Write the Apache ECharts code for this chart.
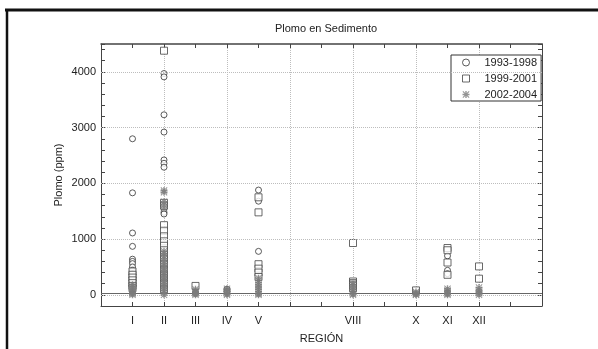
<!DOCTYPE html>
<html>
<head>
<meta charset="utf-8">
<script src="https://cdn.jsdelivr.net/npm/echarts@6/dist/echarts.min.js"></script>
<style>
html,body{margin:0;padding:0;background:#fff;}
#chart{width:598px;height:349px;}
</style>
</head>
<body>
<div id="chart"></div>
<script>
// Region tick positions and labels
const regionValues = [1, 2, 3, 4, 5, 8, 10, 11, 12];
const regionLabels = ['I', 'II', 'III', 'IV', 'V', 'VIII', 'X', 'XI', 'XII'];
const seriesNames = ['1993-1998', '1999-2001', '2002-2004'];

// [region, ppm]
const pts1993 = [
  [1,2800],[1,1830],[1,1110],[1,870],[1,640],[1,600],[1,560],[1,500],[1,440],[1,380],
  [2,3970],[2,3910],[2,3230],[2,2920],[2,2420],[2,2360],[2,2290],[2,1550],[2,1480],[2,1450],[2,600],
  [3,30],
  [4,100],[4,60],
  [5,1880],[5,1680],[5,780],
  [11,700],[11,440],[11,380]
];
const pts1999 = [
  [1,420],[1,360],[1,310],[1,260],[1,210],[1,160],[1,120],
  [2,4380],[2,1650],[2,1600],[2,1250],[2,1150],[2,1050],[2,960],[2,880],[2,800],[2,720],[2,650],[2,550],[2,450],[2,350],[2,300],[2,200],[2,100],
  [3,160],
  [5,1750],[5,1480],[5,550],[5,470],[5,400],[5,320],
  [8,930],[8,240],[8,210],[8,170],[8,120],
  [10,80],
  [11,840],[11,800],[11,580],[11,360],
  [12,510],[12,290]
];
const pts2002 = [
  [1,180],[1,150],[1,120],[1,90],[1,60],[1,40],[1,20],[1,0],
  [2,1870],[2,1840],[2,1670],[2,1620],[2,1560],[2,780],[2,740],[2,700],[2,650],[2,600],[2,560],[2,520],[2,480],[2,440],[2,400],[2,360],[2,320],[2,280],[2,240],[2,200],[2,160],[2,120],[2,80],[2,40],[2,0],
  [3,100],[3,70],[3,40],[3,20],[3,0],
  [4,110],[4,80],[4,50],[4,20],[4,0],
  [5,300],[5,260],[5,220],[5,180],[5,140],[5,100],[5,60],[5,20],[5,0],
  [8,220],[8,180],[8,140],[8,100],[8,60],[8,20],[8,0],
  [10,50],[10,30],[10,10],[10,0],
  [11,110],[11,80],[11,50],[11,20],[11,0],
  [12,130],[12,90],[12,60],[12,30],[12,0]
];
const yGridValues = [0, 1000, 2000, 3000, 4000];
const baseLineValue = 30;

const FONT = '"Liberation Sans", Arial, sans-serif';
const starPath = 'path://M4,0H6V4H10V6H6V10H4V6H0V4H4Z M1,0L5,4L9,0L10,1L6,5L10,9L9,10L5,6L1,10L0,9L4,5L0,1Z';

const chart = echarts.init(document.getElementById('chart'), null, {renderer: 'canvas'});
const labelMap = {};
regionValues.forEach((v, i) => { labelMap[v] = regionLabels[i]; });

const tick = {show: true, inside: true, length: 4, lineStyle: {color: '#444'}};
chart.setOption({
  animation: false,
  backgroundColor: '#fff',
  title: {
    text: 'Plomo en Sedimento',
    left: 321, top: 18, textAlign: 'center',
    textStyle: {fontFamily: FONT, fontSize: 11, fontWeight: 'normal', color: '#222'}
  },
  legend: {
    orient: 'vertical',
    left: 451, top: 55,
    backgroundColor: '#fff',
    borderColor: '#333', borderWidth: 1,
    padding: [2, 4, 1, 11],
    itemWidth: 7, itemHeight: 7, itemGap: 5,
    itemStyle: {borderWidth: 1},
    textStyle: {fontFamily: FONT, fontSize: 11, color: '#222', padding: [0, 0, 0, 10]},
    data: seriesNames
  },
  grid: {left: 101, top: 44, width: 441, height: 267},
  xAxis: [{
    type: 'value', min: 0, max: 14, interval: 1, position: 'bottom',
    name: 'REGIÓN', nameLocation: 'middle', nameGap: 27, nameMoveOverlap: false,
    nameTextStyle: {fontFamily: FONT, fontSize: 11, color: '#222'},
    axisLine: {show: true, onZero: false, lineStyle: {color: '#444', width: 1}},
    axisTick: tick,
    axisLabel: {fontFamily: FONT, fontSize: 11, color: '#222', margin: 9,
      formatter: v => labelMap[v] || ''},
    splitLine: {show: true, lineStyle: {type: 'dotted', color: ['#bdbdbd', 'transparent'], width: 1}}
  }, {
    type: 'value', min: 0, max: 14, interval: 1, position: 'top',
    axisLine: {show: true, onZero: false, lineStyle: {color: '#444', width: 1.5}},
    axisTick: tick,
    axisLabel: {show: false}, splitLine: {show: false}
  }],
  yAxis: [{
    type: 'value', min: -200, max: 4500, interval: 200, position: 'left',
    name: 'Plomo (ppm)', nameLocation: 'middle', nameGap: 37, nameMoveOverlap: false,
    nameTextStyle: {fontFamily: FONT, fontSize: 11, color: '#222'},
    axisLine: {show: true, onZero: false, lineStyle: {color: '#444', width: 1}},
    axisTick: tick,
    axisLabel: {fontFamily: FONT, fontSize: 11, color: '#222', margin: 5,
      formatter: v => (v % 1000 === 0 ? String(v) : '')},
    splitLine: {show: false}
  }, {
    type: 'value', min: -200, max: 4500, interval: 200, position: 'right',
    axisLine: {show: true, onZero: false, lineStyle: {color: '#444', width: 1}},
    axisTick: tick,
    axisLabel: {show: false}, splitLine: {show: false}
  }],
  graphic: [
    {type: 'line', shape: {x1: 5, y1: 10, x2: 598, y2: 10}, style: {stroke: '#111', lineWidth: 3}, z: 100},
    {type: 'line', shape: {x1: 7, y1: 9, x2: 7, y2: 349}, style: {stroke: '#111', lineWidth: 2.5}, z: 100}
  ],
  series: [{
    name: seriesNames[0], type: 'scatter', data: pts1993,
    symbol: 'circle', symbolSize: 6,
    itemStyle: {color: '#fff', borderColor: '#333', borderWidth: 1},
    markLine: {
      silent: true, symbol: 'none', label: {show: false},
      lineStyle: {type: 'dotted', color: '#bdbdbd', width: 1},
      data: yGridValues.map(v => ({yAxis: v}))
    },
    z: 3
  }, {
    name: seriesNames[1], type: 'scatter', data: pts1999,
    symbol: 'rect', symbolSize: 7,
    itemStyle: {color: '#fff', borderColor: '#444', borderWidth: 1},
    markLine: {
      silent: true, symbol: 'none', label: {show: false},
      lineStyle: {type: 'solid', color: '#666', width: 1},
      data: [{yAxis: baseLineValue}]
    },
    z: 4
  }, {
    name: seriesNames[2], type: 'scatter', data: pts2002,
    symbol: starPath, symbolSize: 7,
    itemStyle: {color: '#7a7a7a'},
    z: 5
  }]
});
</script>
</body>
</html>
